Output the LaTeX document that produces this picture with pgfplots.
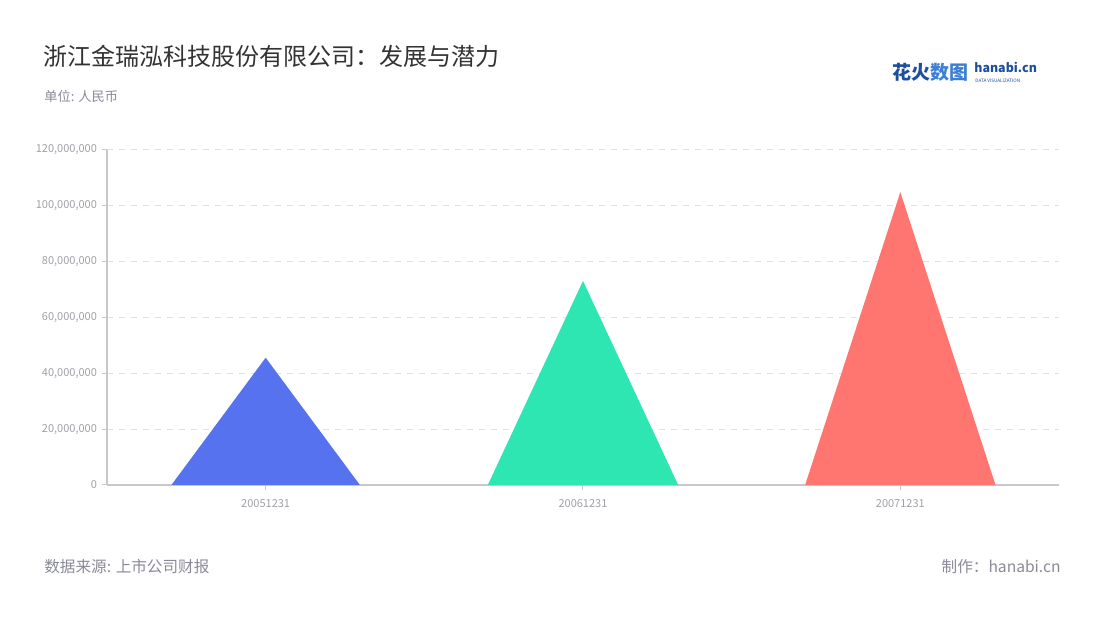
\documentclass[border=0pt]{standalone}
\usepackage{fontspec}
\usepackage{pgfplots}
\pgfplotsset{compat=1.18}
\setmainfont{Noto Sans CJK SC}
\newfontfamily\cjk{Noto Sans CJK SC}
\definecolor{cblue}{HTML}{5672EE}
\definecolor{cgreen}{HTML}{2EE6B1}
\definecolor{cred}{HTML}{FF7670}
\definecolor{titlec}{HTML}{333333}
\definecolor{subc}{HTML}{8A8A99}
\definecolor{tickc}{HTML}{A0A0A8}
\definecolor{axisc}{HTML}{C8C8CC}
\definecolor{gridc}{HTML}{E0E0E0}
\definecolor{logod}{HTML}{1E4E9E}
\definecolor{logol}{HTML}{3C7FD6}
\begin{document}
\begin{tikzpicture}[x=0.5pt,y=0.5pt]
\path[fill=white] (0,0) rectangle (1100,620);
\node[anchor=west,text=titlec,font=\fontsize{12pt}{13pt}\selectfont,inner sep=0pt] at (43,620-56) {浙江金瑞泓科技股份有限公司：发展与潜力};
\node[anchor=west,text=subc,font=\fontsize{6.6pt}{8pt}\selectfont,inner sep=0pt] at (44,620-96) {单位: 人民币};
\node[anchor=west,text=subc,font=\fontsize{7.8pt}{9pt}\selectfont,inner sep=0pt] at (44,620-567) {数据来源: 上市公司财报};
\node[anchor=east,text=subc,font=\fontsize{7.8pt}{9pt}\selectfont,inner sep=0pt] at (1061,620-567) {制作：hanabi.cn};
% logo
\node[anchor=west,inner sep=0pt,font=\bfseries\fontsize{9.5pt}{10pt}\selectfont] at (892,620-72) {\textcolor{logod}{花火}\textcolor{logol}{数图}};
\node[anchor=west,inner sep=0pt,text=logod,font=\bfseries\fontsize{6.2pt}{7pt}\selectfont] at (974,620-67) {hanabi.cn};
\node[anchor=west,inner sep=0pt,text=logod,font=\fontsize{2.3pt}{3pt}\selectfont] at (975,620-81) {DATA VISUALIZATION};
\begin{axis}[
  at={(53.5pt,67.5pt)}, anchor=south west,
  scale only axis, width=476pt, height=167.5pt,
  xmin=-0.5, xmax=2.5, ymin=0, ymax=120000000,
  xtick={0,1,2}, xticklabels={20051231,20061231,20071231},
  ytick={0,20000000,40000000,60000000,80000000,100000000,120000000},
  scaled y ticks=false,
  yticklabel style={/pgf/number format/fixed, /pgf/number format/1000 sep={,}, /pgf/number format/assume math mode=true, xshift=1pt},
  axis x line*=bottom, axis y line*=left,
  axis line style={draw=axisc, line width=0.6pt, -},
  tick align=outside, major tick length=2.5pt,
  tick style={draw=axisc, line width=0.5pt},
  ymajorgrids, grid style={draw=gridc, line width=0.5pt, dash pattern=on 3pt off 3pt},
  tick label style={text=tickc, font=\fontsize{5.5pt}{6pt}\selectfont},
  xticklabel style={yshift=-1pt},
  clip=false,
]
\addplot[fill=cblue, draw=none] coordinates {(-0.297,0) (0,45600000) (0.297,0)} \closedcycle;
\addplot[fill=cgreen, draw=none] coordinates {(0.7,0) (1,73100000) (1.3,0)} \closedcycle;
\addplot[fill=cred, draw=none] coordinates {(1.7,0) (2,104900000) (2.3,0)} \closedcycle;
\end{axis}
\end{tikzpicture}
\end{document}
